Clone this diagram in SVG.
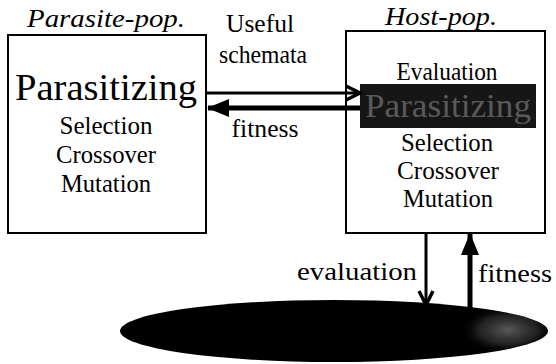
<svg xmlns="http://www.w3.org/2000/svg" width="556" height="364" viewBox="0 0 556 364" font-family="Liberation Serif, Times New Roman, DejaVu Serif, serif">
<defs>
<style>
text{fill:#000;text-anchor:middle}
.it{font-style:italic;font-size:26px}
.big{font-size:37px}
.md{font-size:25px}
.box{fill:#fff;stroke:#000;stroke-width:2}
.thin{stroke:#000;stroke-width:3;fill:none}
.thick{stroke:#000;stroke-width:5;fill:none}
</style>
<marker id="vhead" markerUnits="userSpaceOnUse" viewBox="0 0 18 18" refX="16" refY="9" markerWidth="18" markerHeight="18" orient="auto">
<path d="M2,2 L16,9 L2,16" fill="none" stroke="#000" stroke-width="3.5"/>
</marker>
<marker id="fhead" markerUnits="userSpaceOnUse" viewBox="0 0 22 20" refX="21" refY="10" markerWidth="22" markerHeight="20" orient="auto">
<path d="M0,1 L22,10 L0,19 Z" fill="#000"/>
</marker>
<radialGradient id="speck" cx="508" cy="330" r="40" fx="508" fy="330" gradientUnits="userSpaceOnUse" gradientTransform="translate(508 330) scale(1.2 0.6) translate(-508 -330)">
<stop offset="0" stop-color="#777" stop-opacity="0.75"/>
<stop offset="0.6" stop-color="#555" stop-opacity="0.4"/>
<stop offset="1" stop-color="#000" stop-opacity="0"/>
</radialGradient>
</defs>
<rect width="556" height="364" fill="#fff"/>

<g id="parasite-pop">
<text class="it" x="106" y="27" textLength="158" lengthAdjust="spacingAndGlyphs">Parasite-pop.</text>
<rect class="box" x="8" y="35" width="198" height="198"/>
<text class="big" x="106" y="100" textLength="182" lengthAdjust="spacingAndGlyphs">Parasitizing</text>
<text class="md" x="106" y="134" textLength="93" lengthAdjust="spacingAndGlyphs">Selection</text>
<text class="md" x="106" y="163" textLength="100" lengthAdjust="spacingAndGlyphs">Crossover</text>
<text class="md" x="106" y="192" textLength="90" lengthAdjust="spacingAndGlyphs">Mutation</text>
</g>

<g id="host-pop">
<text class="it" x="441" y="25" textLength="112" lengthAdjust="spacingAndGlyphs">Host-pop.</text>
<rect class="box" x="346" y="31" width="199" height="202"/>
<text class="md" x="447" y="80" textLength="101" lengthAdjust="spacingAndGlyphs">Evaluation</text>
<rect x="360" y="84" width="176" height="44" fill="#161616"/>
<text x="448" y="117" style="font-size:34px;fill:#5a5a5a" textLength="166" lengthAdjust="spacingAndGlyphs">Parasitizing</text>
<text class="md" x="447" y="151" textLength="92" lengthAdjust="spacingAndGlyphs">Selection</text>
<text class="md" x="448" y="179" textLength="102" lengthAdjust="spacingAndGlyphs">Crossover</text>
<text class="md" x="448" y="207" textLength="90" lengthAdjust="spacingAndGlyphs">Mutation</text>
</g>

<g id="environment">
<ellipse cx="334" cy="331" rx="214" ry="31" fill="#000"/>
<ellipse cx="334" cy="331" rx="214" ry="31" fill="url(#speck)"/>
</g>

<g id="connectors">
<line class="thin" x1="207" y1="93" x2="360" y2="93" marker-end="url(#vhead)"/>
<line class="thick" x1="360" y1="108" x2="208" y2="108" marker-end="url(#fhead)"/>
<line class="thin" x1="426" y1="233" x2="426" y2="305" marker-end="url(#vhead)"/>
<line class="thick" x1="470" y1="309" x2="470" y2="234" marker-end="url(#fhead)"/>
</g>

<g id="labels">
<text class="md" x="260" y="32" textLength="68" lengthAdjust="spacingAndGlyphs">Useful</text>
<text class="md" x="263" y="63" textLength="88" lengthAdjust="spacingAndGlyphs">schemata</text>
<text class="md" x="265" y="137" textLength="67" lengthAdjust="spacingAndGlyphs">fitness</text>
<text class="md" x="357" y="280" textLength="120" lengthAdjust="spacingAndGlyphs">evaluation</text>
<text class="md" x="515" y="282" textLength="74" lengthAdjust="spacingAndGlyphs">fitness</text>
</g>
</svg>
